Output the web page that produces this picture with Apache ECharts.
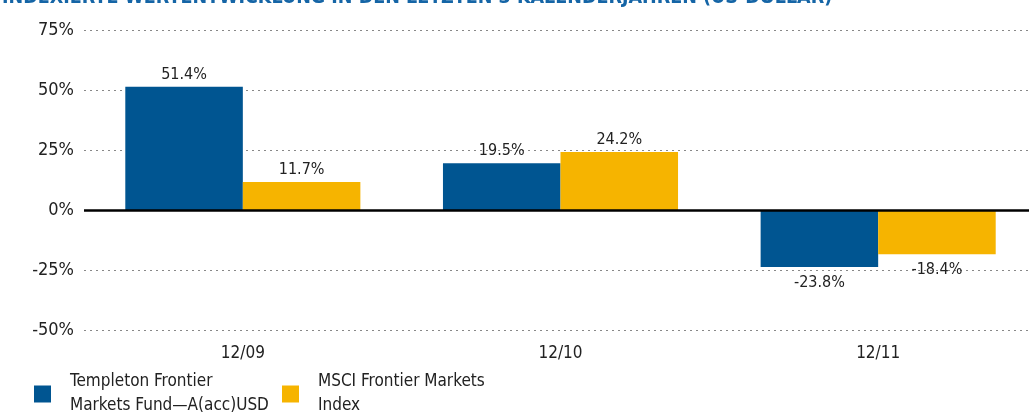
<!DOCTYPE html>
<html>
<head>
<meta charset="utf-8">
<script src="https://cdn.jsdelivr.net/npm/echarts@6/dist/echarts.min.js"></script>
<style>
  html, body { margin: 0; padding: 0; background: #fff; }
  #chart { width: 1029px; height: 414px; }
</style>
</head>
<body>
<div id="chart"></div>
<script>
const years = ['12/09', '12/10', '12/11']
const fundName = 'Templeton Frontier\nMarkets Fund\u2014A(acc)USD'
const indexName = 'MSCI Frontier Markets\nIndex'
const fundValues = [51.4, 19.5, -23.8]
const indexValues = [11.7, 24.2, -18.4]

const font = "'Liberation Sans Narrow', 'DejaVu Sans Condensed', sans-serif"
const blue = '#005591'
const yellow = '#f6b400'

const labelFor = v => ({
  value: v,
  label: { position: v < 0 ? 'bottom' : 'top', distance: v < 0 ? 8 : 4 }
})

const chart = echarts.init(document.getElementById('chart'))
chart.setOption({
  animation: false,
  title: {
    text: 'INDEXIERTE WERTENTWICKLUNG IN DEN LETZTEN 3 KALENDERJAHREN (US-DOLLAR)',
    left: -3,
    top: -17,
    textStyle: { color: '#1565a6', fontFamily: font, fontWeight: 'bold', fontSize: 19.5 }
  },
  grid: { left: 84, width: 953, top: 30, bottom: 84, outerBoundsMode: 'none' },
  legend: [
    {
      data: [fundName], left: 34, top: 370, padding: 0, itemWidth: 17, itemHeight: 17,
      icon: 'rect',
      textStyle: { fontFamily: font, fontSize: 17, color: '#222', lineHeight: 24, padding: [0, 0, 0, 14] }
    },
    {
      data: [indexName], left: 282, top: 370, padding: 0, itemWidth: 17, itemHeight: 17,
      icon: 'rect',
      textStyle: { fontFamily: font, fontSize: 17, color: '#222', lineHeight: 24, padding: [0, 0, 0, 14] }
    }
  ],
  xAxis: {
    type: 'category',
    data: years,
    axisLine: { show: false, onZero: false },
    axisTick: { show: false },
    axisLabel: { color: '#222', fontFamily: font, fontSize: 17, margin: 15 }
  },
  yAxis: {
    type: 'value',
    min: -50,
    max: 75,
    interval: 25,
    axisLine: { show: false },
    axisTick: { show: false },
    axisLabel: { formatter: '{value}%', color: '#222', fontFamily: font, fontSize: 18, margin: 10 },
    splitLine: { lineStyle: { type: [2, 4], color: '#888', width: 1 } }
  },
  series: [
    {
      name: fundName,
      type: 'bar',
      data: fundValues.map(labelFor),
      itemStyle: { color: blue },
      barGap: 0,
      barCategoryGap: '26%',
      label: {
        show: true, formatter: p => p.value.toFixed(1) + '%',
        color: '#222', fontFamily: font, fontSize: 16
      },
      markLine: {
        silent: true, symbol: 'none', label: { show: false },
        lineStyle: { color: '#000', width: 2.5, type: 'solid' },
        data: [{ yAxis: 0 }]
      }
    },
    {
      name: indexName,
      type: 'bar',
      data: indexValues.map(labelFor),
      itemStyle: { color: yellow },
      barGap: 0,
      barCategoryGap: '26%',
      label: {
        show: true, formatter: p => p.value.toFixed(1) + '%',
        color: '#222', fontFamily: font, fontSize: 16
      }
    }
  ]
})
</script>
</body>
</html>
